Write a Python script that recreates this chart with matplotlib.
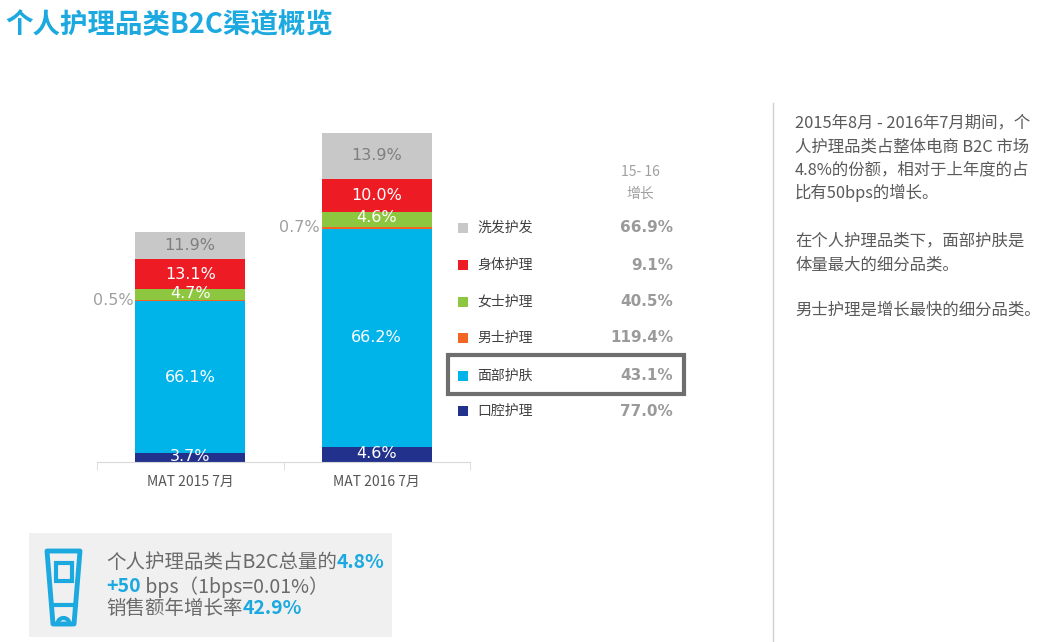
import numpy as np
import matplotlib
matplotlib.use('Agg')
import matplotlib.pyplot as plt
from matplotlib.patches import Rectangle, Polygon, Wedge

plt.rcParams['font.family'] = ['Noto Sans CJK SC', 'DejaVu Sans']

# dados
categorias = ['MAT 2015 7月', 'MAT 2016 7月']
totais = [100.0, 142.9]          # 2015 = 100, crescimento 42.9%
segmentos = ['口腔护理', '面部护肤', '男士护理', '女士护理', '身体护理', '洗发护发']
cores = ['#22318C', '#00B4EA', '#F26522', '#8DC63F', '#ED1C24', '#C8C8C8']
share_2015 = [3.7, 66.1, 0.5, 4.7, 13.1, 11.9]
share_2016 = [4.6, 66.2, 0.7, 4.6, 10.0, 13.9]
crescimento = ['77.0%', '43.1%', '119.4%', '40.5%', '9.1%', '66.9%']

W, H = 1043, 642
fig = plt.figure(figsize=(W / 100, H / 100), dpi=100)

# fundo em coordenadas de pixel
bg = fig.add_axes([0, 0, 1, 1], zorder=0)
bg.set_xlim(0, W)
bg.set_ylim(H, 0)
bg.axis('off')

azul = '#1BA9E0'
cinza_txt = '#5a5a5a'

# titulo
bg.text(5, 25, '个人护理品类B2C渠道概览', color=azul, fontsize=19.8, fontweight='bold',
        va='center', ha='left')

# grafico de barras
base_px, topo_px = 462, 120
esq_px, dir_px = 97, 470
ax = fig.add_axes([esq_px / W, 1 - base_px / H, (dir_px - esq_px) / W, (base_px - topo_px) / H],
                  zorder=2)
ax.patch.set_alpha(0)
ppu = (base_px - 133) / totais[1]
ax.set_ylim(0, (base_px - topo_px) / ppu)
ax.set_xlim(-0.5, 1.5)
x = np.arange(len(categorias))
largura = 0.59

shares = [share_2015, share_2016]
for i in range(len(categorias)):
    fundo = 0
    for j, s in enumerate(shares[i]):
        h = totais[i] * s / 100
        ax.bar(x[i], h, largura, bottom=fundo, color=cores[j], edgecolor='none')
        txt = '%.1f%%' % s
        if segmentos[j] == '男士护理':
            ax.text(x[i] - largura / 2 - 0.01, fundo + h / 2, txt, ha='right', va='center',
                    color='#a0a0a0', fontsize=11.5, family=['DejaVu Sans'])
        else:
            cor_txt = '#7f7f7f' if segmentos[j] == '洗发护发' else 'white'
            ax.text(x[i], fundo + h / 2 + (0.6 if h < 8 else 0), txt, ha='center', va='center',
                    color=cor_txt, fontsize=11.5, family=['DejaVu Sans'])
        fundo += h

for lado in ['top', 'right', 'left']:
    ax.spines[lado].set_visible(False)
ax.spines['bottom'].set_color('#d9d9d9')
ax.set_yticks([])
ax.set_xticks(x)
ax.set_xticklabels(categorias, fontsize=10, color='#555555')
ax.tick_params(axis='x', length=0, pad=9)
ax.set_xticks([-0.5, 0.5, 1.5], minor=True)
ax.tick_params(axis='x', which='minor', length=6, color='#d9d9d9')

# legenda com crescimento
bg.text(640, 172, '15- 16', ha='center', va='center', color='#a0a0a0', fontsize=10)
bg.text(640, 194, '增长', ha='center', va='center', color='#a0a0a0', fontsize=10)
linhas_y = [411, 376, 338, 302, 265, 228]
for j in range(len(segmentos)):
    yy = linhas_y[j]
    bg.add_patch(Rectangle((458, yy - 5), 10, 10, color=cores[j], lw=0))
    bg.text(477, yy, segmentos[j], ha='left', va='center', color='#404040', fontsize=10)
    bg.text(673, yy, crescimento[j], ha='right', va='center', color='#9a9a9a', fontsize=11,
            fontweight='bold', family=['DejaVu Sans'])
bg.add_patch(Rectangle((448, 355), 236, 39, fill=False, ec='#6e6e6e', lw=3))

# separador e texto da direita
bg.plot([773, 773], [103, H], color='#cfcfcf', lw=1)
texto_dir = [
    (123, '2015年8月 - 2016年7月期间，个'),
    (147, '人护理品类占整体电商 B2C 市场'),
    (170, '4.8%的份额，相对于上年度的占'),
    (193, '比有50bps的增长。'),
    (241, '在个人护理品类下，面部护肤是'),
    (265, '体量最大的细分品类。'),
    (310, '男士护理是增长最快的细分品类。'),
]
for yy, t in texto_dir:
    bg.text(795, yy, t, ha='left', va='center', color=cinza_txt, fontsize=11.8)

# caixa inferior
bg.add_patch(Rectangle((29, 533), 363, 104, color='#f0f0f0', lw=0))
bg.add_patch(Polygon([(47, 551), (80, 551), (74, 624), (53, 624)], closed=True,
                     fill=False, ec=azul, lw=3.5, joinstyle='round'))
bg.plot([51.5, 75.5], [605, 605], color=azul, lw=3)
bg.add_patch(Rectangle((56, 563), 16, 18, fill=False, ec=azul, lw=3))
bg.add_patch(Wedge((63.5, 624), 6, 180, 360, fill=False, ec=azul, lw=3))

linhas_caixa = [
    (563, [('个人护理品类占B2C总量的', False), ('4.8%', True)]),
    (587, [('+50', True), (' bps（1bps=0.01%）', False)]),
    (609, [('销售额年增长率', False), ('42.9%', True)]),
]
for yy, partes in linhas_caixa:
    ant = None
    for t, dest in partes:
        kw = dict(color=azul if dest else '#6a6a6a', fontsize=14,
                  fontweight='bold' if dest else 'normal')
        if ant is None:
            ant = bg.text(106, yy, t, ha='left', va='center', **kw)
        else:
            ant = bg.annotate(t, xy=(1, 0.5), xycoords=ant, ha='left', va='center', **kw)

fig.savefig('out.png', dpi=100)
